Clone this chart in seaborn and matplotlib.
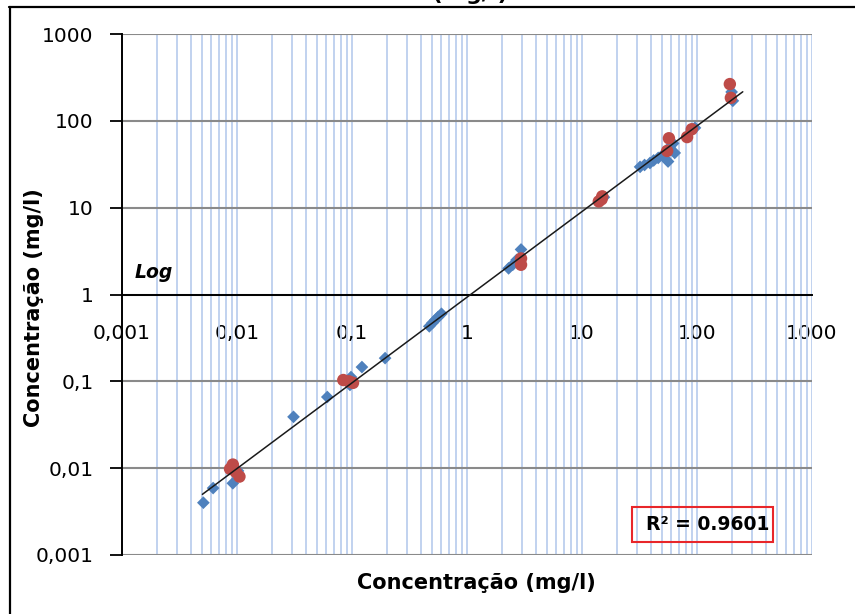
import numpy as np
import pandas as pd
import matplotlib
matplotlib.use('Agg')
import matplotlib.pyplot as plt
import seaborn as sns
from matplotlib.ticker import FixedLocator, FixedFormatter, LogLocator, NullLocator
from matplotlib.lines import Line2D
from matplotlib.patches import Rectangle

sns.set_theme(style='white')
plt.rcParams['font.family'] = ['DejaVu Sans']
plt.rcParams['text.color'] = 'black'
plt.rcParams['xtick.color'] = 'black'
plt.rcParams['ytick.color'] = 'black'

# serie 1 (losangos azuis)
blue_x = [0.0051, 0.0062, 0.0092, 0.0102, 0.031, 0.061, 0.096, 0.098, 0.122, 0.194,
          0.47, 0.50, 0.53, 0.56, 0.60, 2.3, 2.5, 2.7, 2.95, 15.5,
          32, 35, 39, 42, 46, 50, 56, 58, 64, 62, 90, 96, 200, 205]
blue_y = [0.0040, 0.0059, 0.0067, 0.0093, 0.039, 0.066, 0.091, 0.112, 0.146, 0.185,
          0.43, 0.47, 0.51, 0.55, 0.60, 2.0, 2.2, 2.5, 3.3, 13.2,
          29.5, 31, 32.7, 35, 37.4, 40, 34, 50, 42.7, 55, 78, 83, 215, 170]

# serie 2 (circulos vermelhos)
red_x = [0.0087, 0.0092, 0.0105, 0.0098, 0.084, 0.102, 0.094, 2.95, 2.95,
         14.0, 14.8, 15.0, 57, 55, 82, 90, 193, 197]
red_y = [0.0098, 0.0110, 0.0080, 0.0090, 0.1035, 0.096, 0.100, 2.6, 2.2,
         11.8, 12.5, 13.5, 63, 45, 65, 80, 265, 184]

ticks = [0.001, 0.01, 0.1, 1, 10, 100, 1000]
tick_labels = ['0,001', '0,01', '0,1', '1', '10', '100', '1000']
fit_range = [0.005, 250]
r2_text = 'R² = 0.9601'

df = pd.concat([
    pd.DataFrame({'x': blue_x, 'y': blue_y, 'serie': 'A'}),
    pd.DataFrame({'x': red_x, 'y': red_y, 'serie': 'B'}),
])

# ajuste de potencia (linear em log-log)
b, a = np.polyfit(np.log10(df['x']), np.log10(df['y']), 1)
fit_x = np.array(fit_range)
fit_y = 10 ** a * fit_x ** b

fig = plt.figure(figsize=(8.55, 6.14), dpi=100)
ax = fig.add_axes([122 / 855, 59 / 614, 690 / 855, 521 / 614])
ax.set_xscale('log')
ax.set_yscale('log')

sns.scatterplot(data=df[df['serie'] == 'A'], x='x', y='y', marker='D', s=42,
                color='#4F81BD', edgecolor='none', ax=ax, legend=False, zorder=3)
sns.scatterplot(data=df[df['serie'] == 'B'], x='x', y='y', marker='o', s=80,
                color='#BE4B48', edgecolor='none', ax=ax, legend=False, zorder=3)
sns.lineplot(x=fit_x, y=fit_y, color='#1a1a1a', lw=1.1, ax=ax, zorder=4)

ax.set_xlim(ticks[0], ticks[-1])
ax.set_ylim(ticks[0], ticks[-1])

ax.xaxis.set_major_locator(FixedLocator(ticks))
ax.xaxis.set_major_formatter(FixedFormatter(tick_labels))
ax.xaxis.set_minor_locator(LogLocator(base=10, subs=np.arange(2, 10), numticks=30))
ax.yaxis.set_major_locator(FixedLocator(ticks))
ax.yaxis.set_major_formatter(FixedFormatter(tick_labels))
ax.yaxis.set_minor_locator(NullLocator())

ax.grid(axis='x', which='both', color='#bccfee', lw=1.3)
ax.grid(axis='y', which='major', color='#8a8a8a', lw=1.5)
ax.set_axisbelow(True)

for s in ['top', 'right']:
    ax.spines[s].set_visible(False)
ax.spines['left'].set_color('black')
ax.spines['left'].set_linewidth(1.4)
ax.spines['bottom'].set_position(('data', 1))
ax.spines['bottom'].set_color('black')
ax.spines['bottom'].set_linewidth(1.4)

ax.tick_params(axis='x', which='both', length=0, pad=21, labelsize=14.5,
               labelcolor='black')
ax.tick_params(axis='y', which='major', direction='out', length=8.6, width=1.3,
               color='black', pad=12, labelsize=14.5, labelcolor='black', left=True)
ax.set_xlabel('')
ax.set_ylabel('')

fig.text(34 / 855, (614 - 308) / 614, 'Concentração (mg/l)', rotation=90,
         ha='center', va='center', fontsize=15, fontweight='bold', color='black')
fig.text(476 / 855, (614 - 583) / 614, 'Concentração (mg/l)',
         ha='center', va='center', fontsize=15, fontweight='bold', color='black')
fig.text(135 / 855, (614 - 278) / 614, 'Log', ha='left', va='baseline',
         fontsize=13.5, fontweight='bold', fontstyle='italic', color='black')

fig.patches.append(Rectangle((632 / 855, (614 - 542) / 614), 141 / 855, 35 / 614,
                             transform=fig.transFigure, fill=False,
                             edgecolor='#e8262a', lw=1.5))
fig.text(708 / 855, (614 - 525) / 614, r2_text, ha='center', va='center',
         fontsize=13.5, fontweight='bold', color='black')

# titulo cortado no topo (so as partes de baixo aparecem)
fig.text(508 / 855, (614 + 0.5) / 614, 'Ferro (mg/l)', ha='right', va='baseline',
         fontsize=16, fontweight='bold', color='black')

fig.lines.append(Line2D([9 / 855, 1], [(614 - 7) / 614] * 2, transform=fig.transFigure,
                        color='black', lw=1.6))
fig.lines.append(Line2D([9.5 / 855] * 2, [0, (614 - 7) / 614], transform=fig.transFigure,
                        color='black', lw=1.6))

fig.savefig('out.png', dpi=100)
